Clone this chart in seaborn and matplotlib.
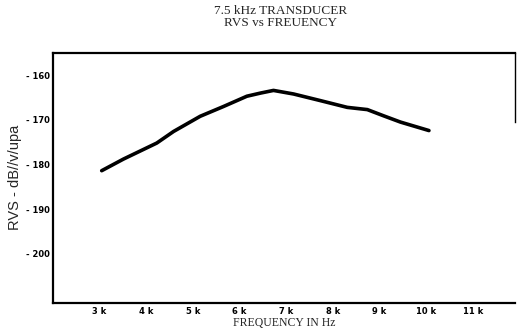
import seaborn as sns
import matplotlib.pyplot as plt
import pandas as pd

sns.set_theme(style="white")

# values
freq_hz = [3050, 3515, 4230, 4590, 5160, 5660, 6160, 6450, 6730, 7160,
           7740, 8310, 8740, 9090, 9450, 10060]
rvs_db = [-181.4, -178.8, -175.2, -172.6, -169.2, -167.0, -164.7, -164.0,
          -163.4, -164.2, -165.7, -167.2, -167.7, -169.1, -170.5, -172.4]

x_ticks = [3000, 4000, 5000, 6000, 7000, 8000, 9000, 10000, 11000]
x_labels = ['3 k', '4 k', '5 k', '6 k', '7 k', '8 k', '9 k', '10 k', '11 k']
y_ticks = [-160, -170, -180, -190, -200]

df = pd.DataFrame({'freq': freq_hz, 'rvs': rvs_db})

fig = plt.figure(figsize=(5.19, 3.31), dpi=100)
ax = fig.add_axes([0.1015, 0.0855, 0.8905, 0.7545])

sns.lineplot(data=df, x='freq', y='rvs', ax=ax, color='black', linewidth=2.6)

ax.set_xlim(2000, 11900)
ax.set_ylim(-211, -155)
ax.set_xticks(x_ticks)
ax.set_xticklabels(x_labels, fontsize=6, fontweight='bold', family='DejaVu Sans')
ax.set_yticks(y_ticks)
ax.set_yticklabels(['- ' + str(abs(v)) for v in y_ticks], fontsize=6,
                   fontweight='bold', family='DejaVu Sans')
ax.tick_params(direction='in', length=3, width=1.2, pad=3, colors='black')
ax.tick_params(axis='y', pad=2)

for side in ['left', 'top', 'bottom']:
    ax.spines[side].set_linewidth(1.6)
    ax.spines[side].set_color('black')
ax.spines['right'].set_linewidth(1.0)
ax.spines['right'].set_color('black')
ax.spines['right'].set_bounds(-170.5, -155)

ax.set_xlabel('FREQUENCY IN Hz', family='Liberation Serif', fontsize=8.5, labelpad=1)
ax.set_ylabel('RVS - dB//v/upa', family='Liberation Sans', fontsize=10.5, labelpad=3)

fig.text(0.54, 0.985, '7.5 kHz TRANSDUCER\nRVS vs FREUENCY', ha='center', va='top',
         family='Liberation Serif', fontsize=9.5, linespacing=1.05)

fig.savefig('out.png', dpi=100)
